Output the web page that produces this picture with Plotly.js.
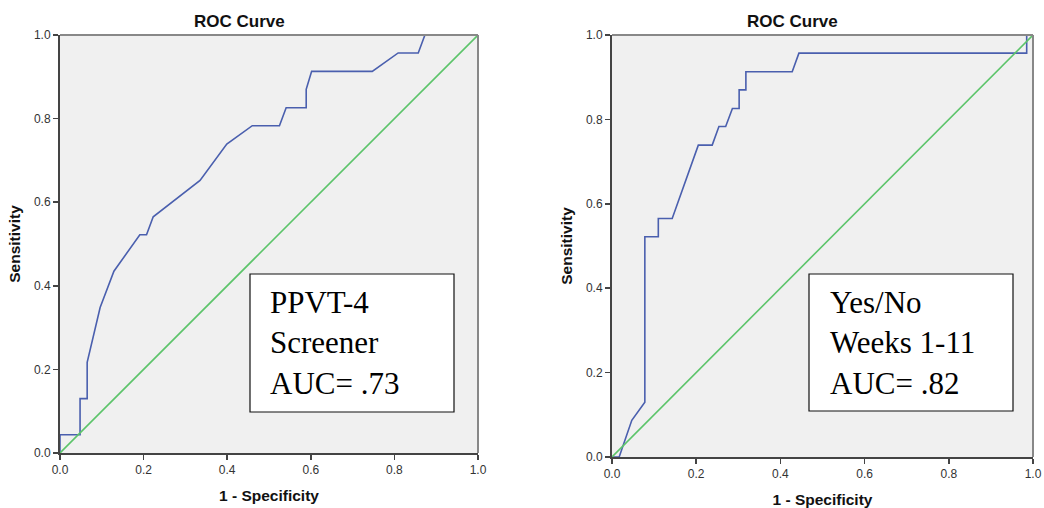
<!DOCTYPE html>
<html>
<head>
<meta charset="utf-8">
<script src="https://cdn.plot.ly/plotly-3.0.1.min.js"></script>
<style>html,body{margin:0;padding:0;background:#fff;}#chart{width:1044px;height:508px;}</style>
</head>
<body>
<div id="chart"></div>
<script>
// Left panel: PPVT-4 Screener ROC
const ppvtFpr  = [0, 0, 0.048, 0.048, 0.065, 0.065, 0.096, 0.129, 0.191, 0.207, 0.223, 0.335, 0.399, 0.46, 0.525, 0.541, 0.589, 0.589, 0.602, 0.747, 0.809, 0.857, 0.873, 1.0];
const ppvtTpr  = [0, 0.0435, 0.0435, 0.130, 0.130, 0.217, 0.348, 0.435, 0.522, 0.522, 0.565, 0.652, 0.739, 0.783, 0.783, 0.826, 0.826, 0.870, 0.913, 0.913, 0.957, 0.957, 1.0, 1.0];
// Right panel: Yes/No Weeks 1-11 ROC
const ynFpr = [0, 0.017, 0.047, 0.078, 0.078, 0.110, 0.110, 0.143, 0.205, 0.238, 0.254, 0.270, 0.286, 0.302, 0.302, 0.318, 0.318, 0.428, 0.444, 0.985, 0.985, 1.0];
const ynTpr = [0, 0, 0.087, 0.130, 0.522, 0.522, 0.565, 0.565, 0.739, 0.739, 0.783, 0.783, 0.826, 0.826, 0.870, 0.870, 0.913, 0.913, 0.957, 0.957, 1.0, 1.0];
// Reference diagonal
const refLine = [0, 1];
const tickVals = [0, 0.2, 0.4, 0.6, 0.8, 1.0];
const tickText = ["0.0", "0.2", "0.4", "0.6", "0.8", "1.0"];
const panelTitle = "ROC Curve";
const xTitle = "1 - Specificity";
const yTitle = "Sensitivity";
const boxTexts = ["PPVT-4<br>Screener<br>AUC= .73", "Yes/No<br>Weeks 1-11<br>AUC= .82"];

const W = 1044, H = 508;
const L = {x0: 60, x1: 478, y0: 35, y1: 453};
const R = {x0: 612, x1: 1033, y0: 35, y1: 457};
const dx = p => [p.x0 / W, p.x1 / W];
const dy = p => [1 - p.y1 / H, 1 - p.y0 / H];

const blue = '#4a5fae', green = '#5cc46a';
const sans = 'Arial, Liberation Sans, sans-serif';
const traces = [
  {x: ppvtFpr, y: ppvtTpr, xaxis: 'x', yaxis: 'y', mode: 'lines', line: {color: blue, width: 1.6}},
  {x: refLine, y: refLine, xaxis: 'x', yaxis: 'y', mode: 'lines', line: {color: green, width: 1.6}},
  {x: ynFpr, y: ynTpr, xaxis: 'x2', yaxis: 'y2', mode: 'lines', line: {color: blue, width: 1.6}},
  {x: refLine, y: refLine, xaxis: 'x2', yaxis: 'y2', mode: 'lines', line: {color: green, width: 1.6}}
];

function ax(domain, anchor, titleText, isY) {
  return {
    domain: domain, anchor: anchor, range: [0, 1], fixedrange: true,
    tickvals: tickVals, ticktext: tickText, ticks: 'outside', ticklen: 5, tickwidth: 1.5, tickcolor: '#444',
    showgrid: false, zeroline: false, showline: true, linecolor: '#444', linewidth: 2,
    tickfont: {family: sans, size: 12, color: '#333'},
    title: {text: titleText, font: {family: sans, size: 15.5, color: '#111'}, standoff: isY ? 9 : 14}
  };
}

const layout = {
  width: W, height: H, margin: {l: 0, r: 0, t: 0, b: 0},
  paper_bgcolor: '#ffffff', plot_bgcolor: '#f0f0f0', showlegend: false,
  xaxis: ax(dx(L), 'y', '<b>' + xTitle + '</b>', false),
  yaxis: ax(dy(L), 'x', '<b>' + yTitle + '</b>', true),
  xaxis2: ax(dx(R), 'y2', '<b>' + xTitle + '</b>', false),
  yaxis2: ax(dy(R), 'x2', '<b>' + yTitle + '</b>', true),
  shapes: [
    {type: 'line', xref: 'x domain', yref: 'y domain', x0: 0, x1: 1, y0: 1, y1: 1, line: {color: '#888', width: 2}},
    {type: 'line', xref: 'x domain', yref: 'y domain', x0: 1, x1: 1, y0: 0, y1: 1, line: {color: '#888', width: 2}},
    {type: 'line', xref: 'x2 domain', yref: 'y2 domain', x0: 0, x1: 1, y0: 1, y1: 1, line: {color: '#888', width: 2}},
    {type: 'line', xref: 'x2 domain', yref: 'y2 domain', x0: 1, x1: 1, y0: 0, y1: 1, line: {color: '#888', width: 2}},
    {type: 'rect', xref: 'paper', yref: 'paper', x0: 250 / W, x1: 454 / W, y0: 1 - 412 / H, y1: 1 - 274 / H, line: {color: '#111', width: 1.2}, fillcolor: '#ffffff', layer: 'above'},
    {type: 'rect', xref: 'paper', yref: 'paper', x0: 809 / W, x1: 1013 / W, y0: 1 - 411 / H, y1: 1 - 274 / H, line: {color: '#111', width: 1.2}, fillcolor: '#ffffff', layer: 'above'}
  ],
  annotations: [
    {text: '<b>' + panelTitle + '</b>', xref: 'paper', yref: 'paper', x: 239 / W, y: 1 - 21 / H, showarrow: false, xanchor: 'center', yanchor: 'middle', font: {family: sans, size: 17, color: '#111'}},
    {text: '<b>' + panelTitle + '</b>', xref: 'paper', yref: 'paper', x: 792 / W, y: 1 - 21 / H, showarrow: false, xanchor: 'center', yanchor: 'middle', font: {family: sans, size: 17, color: '#111'}},
    {text: boxTexts[0], xref: 'paper', yref: 'paper', x: 268 / W, y: 1 - 343 / H, showarrow: false, xanchor: 'left', yanchor: 'middle', align: 'left', font: {family: 'Liberation Serif, Times New Roman, serif', size: 31, color: '#000'}},
    {text: boxTexts[1], xref: 'paper', yref: 'paper', x: 828 / W, y: 1 - 343 / H, showarrow: false, xanchor: 'left', yanchor: 'middle', align: 'left', font: {family: 'Liberation Serif, Times New Roman, serif', size: 31, color: '#000'}}
  ]
};

Plotly.newPlot('chart', traces, layout, {displayModeBar: false, staticPlot: true});
</script>
</body>
</html>
